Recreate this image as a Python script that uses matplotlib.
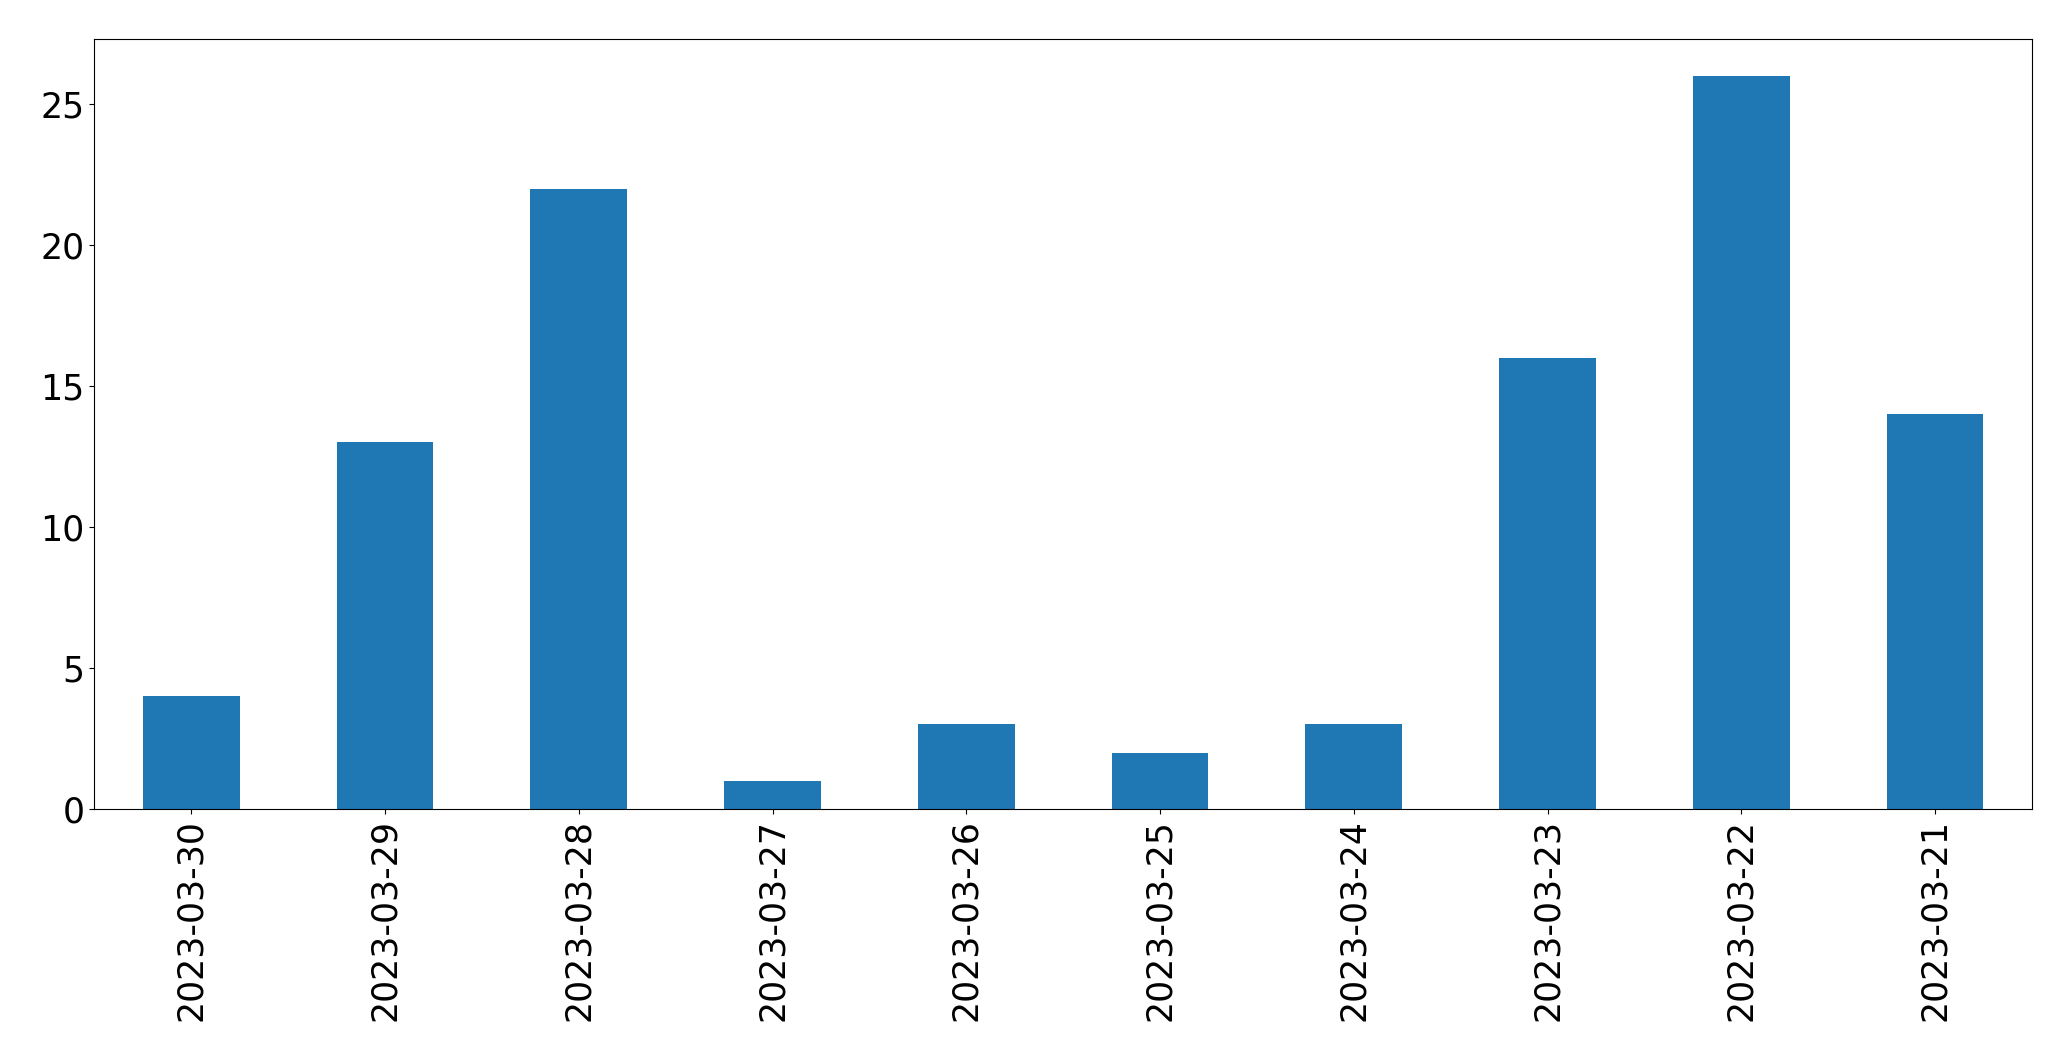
import matplotlib
matplotlib.use('Agg')
import matplotlib.pyplot as plt
import numpy as np

# Daily counts, newest date first
dates = ['2023-03-30', '2023-03-29', '2023-03-28', '2023-03-27', '2023-03-26',
         '2023-03-25', '2023-03-24', '2023-03-23', '2023-03-22', '2023-03-21']
counts = [4, 13, 22, 1, 3, 2, 3, 16, 26, 14]

fig = plt.figure(figsize=(20.71, 10.61), dpi=100)
ax = fig.add_axes([0.0456, 0.2375, 0.9355, 0.7255])

x = np.arange(len(dates))
ax.bar(x, counts, width=0.5, color='#1f77b4')
ax.set_xlim(-0.5, len(dates) - 0.5)
ax.set_ylim(0, max(counts) * 1.05)
ax.set_xticks(x)
ax.set_xticklabels(dates, rotation=90)
ax.tick_params(labelsize=25)

fig.savefig('out.png', dpi=100)
